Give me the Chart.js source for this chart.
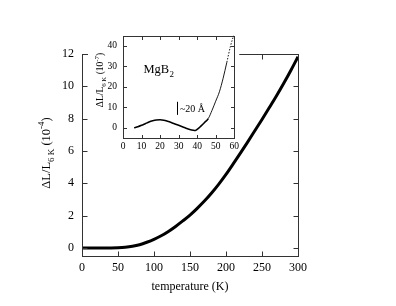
<!DOCTYPE html>
<html>
<head>
<meta charset="utf-8">
<script src="https://cdn.jsdelivr.net/npm/chart.js@4"></script>
<style>
  body { margin: 0; background: #fff; }
  #wrap { position: relative; width: 396px; height: 306px; }
  #mainChart { position: absolute; left: 0; top: 0; }
  #insetChart { position: absolute; left: 88px; top: 24px; }
</style>
</head>
<body>
<div id="wrap">
  <canvas id="mainChart" width="396" height="306"></canvas>
  <canvas id="insetChart" width="154" height="130"></canvas>
</div>
<script>
// main panel: thermal expansion 0-300 K (units 1e-4)
const mainTemps = [0, 10, 20, 30, 40, 50, 60, 70, 80, 90, 100, 110, 120, 130, 140, 150,
  160, 170, 180, 190, 200, 210, 220, 230, 240, 250, 260, 270, 280, 290, 300];
const mainDL = [0, 0, 0, 0, 0, 0.01, 0.04, 0.1, 0.2, 0.35, 0.53, 0.75, 1.02, 1.33, 1.67, 2.03,
  2.45, 2.9, 3.4, 3.95, 4.55, 5.2, 5.87, 6.55, 7.25, 7.95, 8.67, 9.4, 10.17, 10.98, 11.83];
const mainXTicks = [0, 50, 100, 150, 200, 250, 300];
const mainYTicks = [0, 2, 4, 6, 8, 10, 12];

// inset: low temperature part (units 1e-7)
const insetTemps = [6, 8, 10, 12, 14, 16, 18, 20, 22, 24, 26, 28, 30, 32, 34, 36, 38, 39,
  40, 42, 44, 46, 48, 50, 52, 54, 56, 58, 60];
const insetDL = [0, 0.5, 1.2, 2.0, 2.8, 3.4, 3.8, 3.9, 3.7, 3.2, 2.6, 1.9, 1.2, 0.5, -0.2, -0.8, -1.2, -1.3,
  -0.8, 0.8, 2.6, 4.5, 8.5, 13, 17.6, 24.2, 32, 40, 46];
const insetXTicks = [0, 10, 20, 30, 40, 50, 60];
const insetYTicks = [0, 10, 20, 30, 40];

const SERIF = '"Liberation Serif", "DejaVu Serif", serif';

function toPoints(xs, ys) {
  return xs.map((x, i) => ({ x: x, y: ys[i] }));
}

// text with sub/superscripts, optionally rotated
function drawRich(ctx, x, y, parts, size, rotate) {
  ctx.save();
  ctx.translate(x, y);
  if (rotate) ctx.rotate(-Math.PI / 2);
  ctx.fillStyle = "#000";
  ctx.textAlign = "left";
  ctx.textBaseline = "alphabetic";
  let total = 0;
  parts.forEach(p => {
    ctx.font = (size * (p.s || 1)) + "px " + SERIF;
    p.w = ctx.measureText(p.t).width;
    total += p.w;
  });
  let cx = -total / 2;
  parts.forEach(p => {
    ctx.font = (size * (p.s || 1)) + "px " + SERIF;
    ctx.fillText(p.t, cx, (p.dy || 0) * size);
    cx += p.w;
  });
  ctx.restore();
}

// box frame with inward ticks on all sides
function drawFrame(chart, len) {
  const { ctx, chartArea: a, scales: { x, y } } = chart;
  const L = Math.round(a.left) + 0.5, R = Math.round(a.right) + 0.5;
  const T = Math.round(a.top) + 0.5, B = Math.round(a.bottom) + 0.5;
  ctx.save();
  ctx.strokeStyle = "#333";
  ctx.lineWidth = 1;
  ctx.strokeRect(L, T, R - L, B - T);
  ctx.beginPath();
  x.ticks.forEach(t => {
    const px = Math.round(x.getPixelForValue(t.value)) + 0.5;
    ctx.moveTo(px, B); ctx.lineTo(px, B - len);
    ctx.moveTo(px, T); ctx.lineTo(px, T + len);
  });
  y.ticks.forEach(t => {
    const py = Math.round(y.getPixelForValue(t.value)) + 0.5;
    ctx.moveTo(L, py); ctx.lineTo(L + len, py);
    ctx.moveTo(R, py); ctx.lineTo(R - len, py);
  });
  ctx.stroke();
  ctx.restore();
}

function setTicks(list) {
  return scale => { scale.ticks = list.map(v => ({ value: v })); };
}

const mainCtx = document.getElementById("mainChart").getContext("2d");
const mainChart = new Chart(mainCtx, {
  type: "line",
  data: {
    datasets: [{
      data: toPoints(mainTemps, mainDL),
      borderColor: "#000",
      borderWidth: 3,
      pointRadius: 0,
      fill: false,
      cubicInterpolationMode: "monotone"
    }]
  },
  options: {
    responsive: false,
    animation: false,
    devicePixelRatio: 1,
    layout: { padding: { left: 0, right: 98, top: 54, bottom: 0 } },
    plugins: { legend: { display: false }, tooltip: { enabled: false } },
    scales: {
      x: {
        type: "linear", min: 0, max: 300,
        afterBuildTicks: setTicks(mainXTicks),
        afterFit: s => { s.height = 50; },
        grid: { display: false, drawTicks: false },
        border: { display: false },
        ticks: { color: "#000", font: { family: SERIF, size: 12 }, padding: 5, maxRotation: 0 }
      },
      y: {
        type: "linear", min: -0.5, max: 12,
        afterBuildTicks: setTicks(mainYTicks),
        afterFit: s => { s.width = 82; },
        grid: { display: false, drawTicks: false },
        border: { display: false },
        ticks: { color: "#000", font: { family: SERIF, size: 12 }, padding: 8 }
      }
    }
  },
  plugins: [{
    id: "mainDeco",
    afterDraw(chart) {
      drawFrame(chart, 5);
      const ctx = chart.ctx;
      const a = chart.chartArea;
      ctx.save();
      ctx.fillStyle = "#000";
      ctx.font = "12px " + SERIF;
      ctx.textAlign = "center";
      ctx.textBaseline = "middle";
      ctx.fillText("temperature (K)", (a.left + a.right) / 2, 287);
      ctx.restore();
      drawRich(ctx, 50, 153, [
        { t: "ΔL/L" },
        { t: "6 K", s: 0.72, dy: 0.3 },
        { t: " (10" },
        { t: "-4", s: 0.72, dy: -0.45 },
        { t: ")" }
      ], 12.5, true);
    }
  }]
});

const insetCtx = document.getElementById("insetChart").getContext("2d");
const insetChart = new Chart(insetCtx, {
  type: "line",
  data: {
    datasets: [{
      data: toPoints(insetTemps, insetDL),
      borderColor: "#000",
      borderWidth: 1.6,
      pointRadius: 0,
      fill: false,
      cubicInterpolationMode: "monotone",
      segment: {
        borderWidth: c => (c.p0.parsed.x >= 46 ? 0.9 : 1.6),
        borderDash: c => (c.p0.parsed.x >= 56 ? [1.5, 1.5] : [])
      }
    }]
  },
  options: {
    responsive: false,
    animation: false,
    devicePixelRatio: 1,
    layout: { padding: { left: 0, right: 5, top: 8, bottom: 0 } },
    plugins: { legend: { display: false }, tooltip: { enabled: false } },
    scales: {
      x: {
        type: "linear", min: 0, max: 60,
        afterBuildTicks: setTicks(insetXTicks),
        afterFit: s => { s.height = 16; },
        grid: { display: false, drawTicks: false },
        border: { display: false },
        ticks: { color: "#000", font: { family: SERIF, size: 9.5 }, padding: 3, maxRotation: 0 }
      },
      y: {
        type: "linear", min: -5, max: 45,
        afterBuildTicks: setTicks(insetYTicks),
        afterFit: s => { s.width = 35; },
        grid: { display: false, drawTicks: false },
        border: { display: false },
        ticks: { color: "#000", font: { family: SERIF, size: 9.5 }, padding: 6 }
      }
    }
  },
  plugins: [{
    id: "insetDeco",
    beforeDraw(chart) {
      // white backing over the main panel, leaving the label strip see-through
      const a = chart.chartArea;
      const ctx = chart.ctx;
      ctx.save();
      ctx.fillStyle = "#fff";
      ctx.fillRect(0, 0, a.right + 5, a.bottom + 1);
      ctx.restore();
    },
    afterDraw(chart) {
      drawFrame(chart, 3.5);
      const ctx = chart.ctx;
      const { x, y } = chart.scales;
      drawRich(ctx, 15, 56, [
        { t: "ΔL/L" },
        { t: "6 K", s: 0.72, dy: 0.3 },
        { t: " (10" },
        { t: "-7", s: 0.72, dy: -0.45 },
        { t: ")" }
      ], 9.5, true);
      ctx.save();
      ctx.fillStyle = "#000";
      ctx.textAlign = "left";
      ctx.textBaseline = "alphabetic";
      const mx = x.getPixelForValue(11), my = y.getPixelForValue(26.9);
      ctx.font = "12.5px " + SERIF;
      ctx.fillText("MgB", mx, my);
      const mw = ctx.measureText("MgB").width;
      ctx.font = "9px " + SERIF;
      ctx.fillText("2", mx + mw + 0.5, my + 4);
      // ~20 Å marker
      const bx = Math.round(x.getPixelForValue(28.9)) + 0.5;
      ctx.strokeStyle = "#000";
      ctx.lineWidth = 1;
      ctx.beginPath();
      ctx.moveTo(bx, y.getPixelForValue(12.7));
      ctx.lineTo(bx, y.getPixelForValue(6.3));
      ctx.stroke();
      ctx.font = "10px " + SERIF;
      ctx.fillText("~20 Å", x.getPixelForValue(30.7), y.getPixelForValue(7.9));
      ctx.restore();
    }
  }]
});
</script>
</body>
</html>
